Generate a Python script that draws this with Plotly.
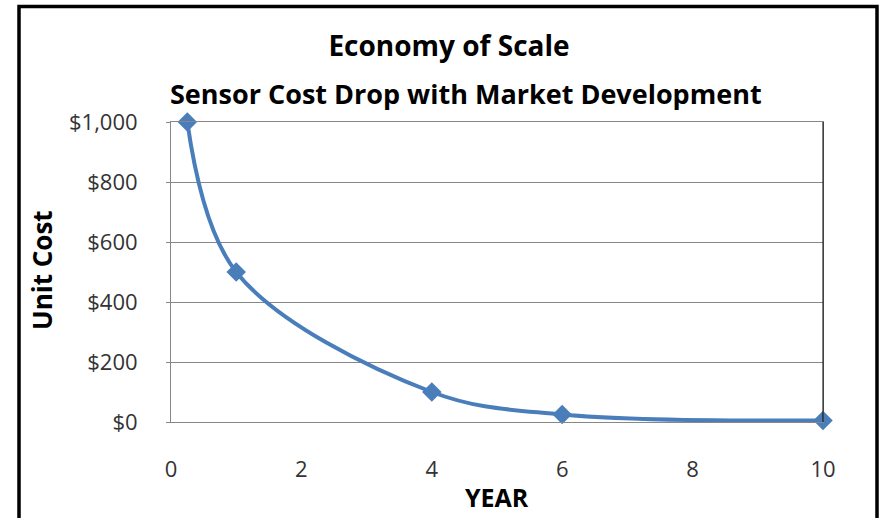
import plotly.graph_objects as go

years = [0.25, 1, 4, 6, 10]
unit_cost = [1000, 500, 100, 25, 5]
x_ticks = [0, 2, 4, 6, 8, 10]
y_ticks = [0, 200, 400, 600, 800, 1000]
y_tick_labels = ["$0", "$200", "$400", "$600", "$800", "$1,000"]

title_text = "Economy of Scale"
subtitle_text = "Sensor Cost Drop with Market Development"
x_title = "YEAR"
y_title = "Unit Cost"

FONT = "Open Sans"
BLUE = "#4A7EBB"
GRID = "#878787"

fig = go.Figure()
fig.add_trace(go.Scatter(
    x=years, y=unit_cost, mode="lines+markers",
    line=dict(color=BLUE, width=4, shape="spline", smoothing=1.0),
    marker=dict(symbol="diamond", size=15, color=BLUE),
    cliponaxis=False, showlegend=False,
))

fig.update_layout(
    width=879, height=518,
    margin=dict(l=171, r=56, t=122, b=96),
    paper_bgcolor="white", plot_bgcolor="white",
    font=dict(family=FONT, color="#222222"),
    title=dict(text="<b>" + title_text + "</b>", x=449/879, xanchor="center",
               y=1 - 46/518, yanchor="middle", yref="container",
               font=dict(family=FONT, size=28, color="black")),
    xaxis=dict(range=[0, 10], tickvals=x_ticks, showgrid=False, zeroline=False,
               showline=True, linecolor=GRID, linewidth=1, mirror=True,
               ticks="", ticklabelstandoff=28,
               tickfont=dict(family=FONT, size=22, color="#333333")),
    yaxis=dict(range=[0, 1000], tickvals=y_ticks, ticktext=y_tick_labels,
               showgrid=True, gridcolor=GRID, gridwidth=1, zeroline=False,
               showline=True, linecolor=GRID, linewidth=1, mirror=True,
               ticks="outside", ticklen=4, tickcolor=GRID, ticklabelstandoff=24,
               tickfont=dict(family=FONT, size=22, color="#333333")),
    annotations=[
        dict(text="<b>" + subtitle_text + "</b>", xref="paper", yref="paper",
             x=(466 - 171) / 652, y=(422 - 93) / 300, xanchor="center", yanchor="middle",
             showarrow=False, font=dict(family=FONT, size=27, color="black")),
        dict(text="<b>" + x_title + "</b>", xref="paper", yref="paper",
             x=0.5, y=(422 - 497) / 300, xanchor="center", yanchor="middle",
             showarrow=False, font=dict(family=FONT, size=25, color="black")),
        dict(text="<b>" + y_title + "</b>", xref="paper", yref="paper",
             x=(42 - 171) / 652, y=(422 - 270) / 300, xanchor="center", yanchor="middle",
             textangle=-90, showarrow=False, font=dict(family=FONT, size=26, color="black")),
    ],
    shapes=[
        dict(type="line", xref="paper", yref="paper", x0=1, x1=1, y0=0, y1=1,
             line=dict(color="black", width=1)),
        dict(type="rect", xref="paper", yref="paper",
             x0=(19 - 171) / 652, x1=(877 - 171) / 652,
             y0=(422 - 530) / 300, y1=(422 - 6.5) / 300,
             line=dict(color="black", width=3.5), fillcolor="rgba(0,0,0,0)"),
    ],
)

fig.write_html("out.html", config={"displayModeBar": False},
               post_script="document.body.style.margin='0px';")
